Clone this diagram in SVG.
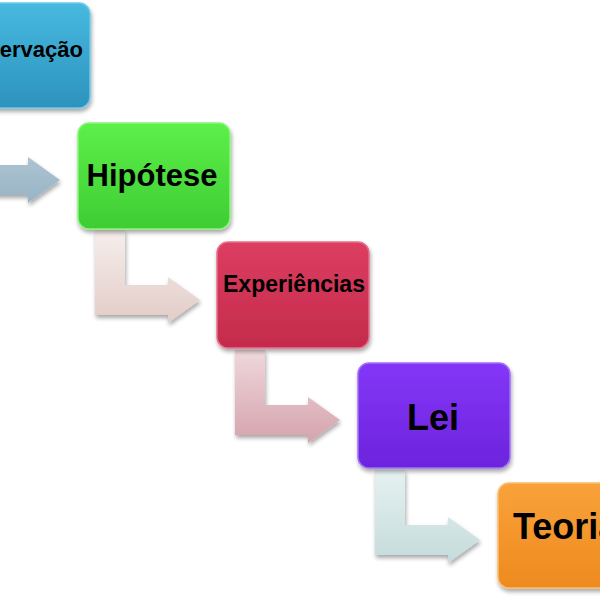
<svg xmlns="http://www.w3.org/2000/svg" width="600" height="600" viewBox="0 0 600 600">
<defs>
<style>
.box{stroke-width:1.5}
.lbl{font-family:"Liberation Sans",Arial,sans-serif;font-weight:bold;fill:#000}
</style>
<filter id="sh" x="-10%" y="-10%" width="130%" height="130%">
<feGaussianBlur in="SourceAlpha" stdDeviation="2"/>
<feOffset dx="1" dy="3"/>
<feComponentTransfer><feFuncA type="linear" slope="0.35"/></feComponentTransfer>
<feMerge><feMergeNode/><feMergeNode in="SourceGraphic"/></feMerge>
</filter>
<linearGradient id="gBlue" x1="0" y1="0" x2="0" y2="1"><stop offset="0" stop-color="#47b9e0"/><stop offset="1" stop-color="#2c93bd"/></linearGradient>
<linearGradient id="gGreen" x1="0" y1="0" x2="0" y2="1"><stop offset="0" stop-color="#5cf04a"/><stop offset="1" stop-color="#3fcc33"/></linearGradient>
<linearGradient id="gRed" x1="0" y1="0" x2="0" y2="1"><stop offset="0" stop-color="#dc3d60"/><stop offset="1" stop-color="#c42b4c"/></linearGradient>
<linearGradient id="gPurple" x1="0" y1="0" x2="0" y2="1"><stop offset="0" stop-color="#8436f8"/><stop offset="1" stop-color="#6c24dc"/></linearGradient>
<linearGradient id="gOrange" x1="0" y1="0" x2="0" y2="1"><stop offset="0" stop-color="#f9a23a"/><stop offset="1" stop-color="#ee8a1e"/></linearGradient>
<linearGradient id="a1" x1="0" y1="0" x2="0" y2="1"><stop offset="0" stop-color="#c2d3de"/><stop offset="1" stop-color="#98b4c6"/></linearGradient>
<linearGradient id="a2" x1="0" y1="0" x2="0" y2="1"><stop offset="0" stop-color="#f6eeec"/><stop offset="1" stop-color="#e2ccc7"/></linearGradient>
<linearGradient id="a3" x1="0" y1="0" x2="0" y2="1"><stop offset="0" stop-color="#efd8dc"/><stop offset="1" stop-color="#d5a3ac"/></linearGradient>
<linearGradient id="a4" x1="0" y1="0" x2="0" y2="1"><stop offset="0" stop-color="#e6f1f1"/><stop offset="1" stop-color="#c5dbdb"/></linearGradient>
<path id="L" d="M0,0 L30,0 L30,55 L73,55 L73,47 L105,70 L73,93 L73,85 L0,85 Z"/>
</defs>
<rect width="600" height="600" fill="#fff"/>
<g id="connectors">
<use href="#L" x="-45" y="110" fill="url(#a1)" filter="url(#sh)"/>
<use href="#L" x="95" y="230" fill="url(#a2)" filter="url(#sh)"/>
<use href="#L" x="235" y="350" fill="url(#a3)" filter="url(#sh)"/>
<use href="#L" x="375" y="470" fill="url(#a4)" filter="url(#sh)"/>
</g>
<g id="observacao">
<rect class="box" x="-62" y="3" width="152" height="105" rx="11" fill="url(#gBlue)" stroke="#6fc9e8" filter="url(#sh)"/>
<text class="lbl" x="20" y="57" font-size="22" text-anchor="middle">Observação</text>
</g>
<g id="hipotese">
<rect class="box" x="78" y="123" width="152" height="106" rx="11" fill="url(#gGreen)" stroke="#8af57a" filter="url(#sh)"/>
<text class="lbl" x="152" y="186" font-size="31" text-anchor="middle">Hipótese</text>
</g>
<g id="experiencias">
<rect class="box" x="217" y="242" width="152" height="106" rx="11" fill="url(#gRed)" stroke="#e8708a" filter="url(#sh)"/>
<text class="lbl" x="294" y="292" font-size="23" text-anchor="middle">Experiências</text>
</g>
<g id="lei">
<rect class="box" x="358" y="363" width="152" height="105" rx="11" fill="url(#gPurple)" stroke="#a070fa" filter="url(#sh)"/>
<text class="lbl" x="433" y="430" font-size="36" text-anchor="middle">Lei</text>
</g>
<g id="teoria">
<rect class="box" x="498" y="483" width="152" height="105" rx="11" fill="url(#gOrange)" stroke="#fbbd70" filter="url(#sh)"/>
<text class="lbl" x="513" y="539" font-size="36">Teoria</text>
</g>
</svg>
